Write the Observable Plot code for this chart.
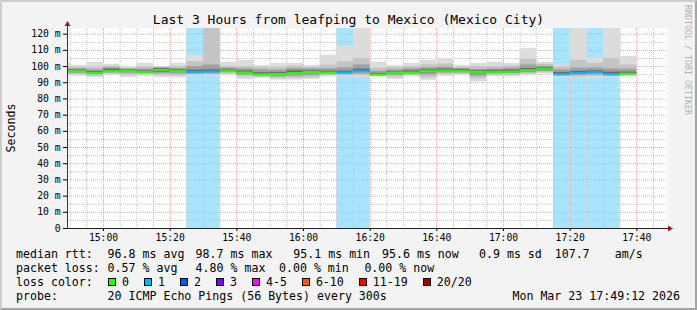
<!DOCTYPE html>
<html><head><meta charset="utf-8">
<script src="https://cdn.jsdelivr.net/npm/d3@7"></script>
<script src="https://cdn.jsdelivr.net/npm/@observablehq/plot@0.6"></script>
<style>
html,body{margin:0;padding:0;background:#f3f3f3;}
#wrap{position:relative;width:697px;height:310px;background:#f3f3f3;overflow:hidden;font-family:"DejaVu Sans Mono",monospace;color:#000;}
#border{position:absolute;left:0;top:0;width:697px;height:310px;box-sizing:border-box;border:2px solid;border-color:#cdcdcd #a4a4a4 #a4a4a4 #cdcdcd;pointer-events:none;}
#chart{position:absolute;left:0;top:0;}
#title{position:absolute;left:0;top:12px;width:697px;text-align:center;font-size:13px;line-height:15px;white-space:pre;}
.t{position:absolute;white-space:pre;font-size:11.6px;line-height:14px;}
#ylab{position:absolute;left:10.5px;top:128px;transform:translate(-50%,-50%) rotate(-90deg);font-size:11.6px;line-height:12px;white-space:pre;}
#tag{position:absolute;left:687px;top:60px;transform:translate(-50%,-50%) rotate(90deg);font-size:8.3px;line-height:9px;white-space:pre;color:#b0b0b0;}
#losslegend{position:absolute;left:108px;top:275px;height:14px;display:flex;align-items:center;font-size:11.6px;line-height:14px;white-space:pre;}
.sw{display:inline-block;width:6px;height:6px;border:1px solid #000;margin-right:6px;}
.lb{margin-right:15px;}
</style>
</head><body>
<div id="wrap">
  <div id="chart"></div>
  <div id="title"></div>
  <div id="ylab"></div>
  <div id="tag"></div>
  <div id="legend"></div>
  <div id="losslegend"></div>
  <div id="border"></div>
</div>
<script>
// ---------- data ----------
const titleText = "Last 3 Hours from leafping to Mexico (Mexico City)";
const yAxisLabel = "Seconds";
const tagText = "RRDTOOL / TOBI OETIKER";
const dayISO = "2026-03-23";
const windowStart = "14:49:12";
const windowEnd = "17:49:12";

// 5-minute slot start times (UTC-like clock labels)
const slotStart = ["14:45","14:50","14:55","15:00","15:05","15:10","15:15","15:20","15:25","15:30",
  "15:35","15:40","15:45","15:50","15:55","16:00","16:05","16:10","16:15","16:20",
  "16:25","16:30","16:35","16:40","16:45","16:50","16:55","17:00","17:05","17:10",
  "17:15","17:20","17:25","17:30","17:35"];
// median rtt (ms)
const medianRtt = [97.2,97.2,96.0,97.2,97.3,96.7,98.0,97.2,96.7,97.0,
  97.6,96.4,95.2,95.4,96.0,96.6,96.3,96.3,97.2,95.1,
  96.3,96.4,97.2,97.5,97.2,96.7,96.7,96.8,97.8,98.7,
  95.3,96.0,96.5,95.3,95.6];
// smoke: min / max ping (ms)
const pingMin = [94.4,94.0,93.0,94.6,93.2,94.0,93.2,93.0,94.0,94.0,
  94.6,92.0,92.6,91.6,91.6,92.0,93.6,93.6,93.2,93.6,
  92.0,93.6,91.5,94.0,94.4,90.5,93.6,93.6,94.4,95.4,
  92.8,92.4,92.8,92.8,93.8];
const pingMax = [102.6,100.8,102.6,101.4,99.6,102.1,100.0,102.1,107.0,200,
  102.7,103.9,100.6,101.9,101.9,100.6,107.0,112.6,160,102.7,
  100.6,102.0,103.9,104.7,100.6,102.0,102.7,101.9,111.1,102.7,
  101.0,160,105.6,160,106.2];
// second smoke band
const band2Lo = [95.0,95.0,94.0,95.3,94.6,94.8,94.5,94.2,94.8,94.8,
  95.4,93.6,93.4,92.6,92.8,93.0,94.4,94.4,94.4,94.0,
  93.4,94.4,93.0,95.0,95.2,92.4,94.6,94.6,95.4,96.2,
  93.8,93.4,93.8,93.6,94.4];
const band2Hi = [100.0,99.6,99.6,100.2,98.9,99.8,99.6,100.0,103.0,160,
  100.0,100.0,99.6,99.6,100.2,99.6,101.0,103.0,105.0,99.0,
  99.4,100.0,101.0,101.6,99.6,100.0,100.0,100.4,104.5,101.4,
  99.8,104.0,102.0,105.0,101.0];
// third smoke band
const band3Lo = [95.8,95.8,95.0,96.0,95.8,95.6,95.6,95.5,95.4,95.5,
  96.2,94.8,94.2,93.6,94.0,94.4,95.2,95.2,95.4,94.4,
  94.6,95.2,94.8,96.0,96.0,94.0,95.4,95.6,96.2,97.0,
  94.4,94.6,94.8,94.4,95.0];
const band3Hi = [98.8,98.6,98.0,99.3,98.4,98.5,99.2,98.8,100.0,101.0,
  99.0,98.6,98.0,97.8,98.8,98.6,98.6,99.2,101.0,97.0,
  98.0,98.6,99.2,99.6,98.8,98.2,98.6,99.0,101.0,100.2,
  98.0,99.0,99.2,98.6,98.4];
// core smoke band
const coreLo = [96.6,96.6,95.5,96.6,96.6,96.1,96.6,96.5,96.0,96.2,
  96.9,95.6,94.7,94.6,95.2,95.8,95.8,95.8,96.4,94.8,
  95.6,95.8,96.2,96.8,96.6,95.6,96.0,96.2,96.9,97.8,
  94.8,95.4,95.8,94.9,95.3];
const coreHi = [97.9,97.9,96.8,98.4,97.9,97.4,98.8,97.9,97.8,98.0,
  98.3,97.4,96.2,96.4,97.4,97.4,97.2,97.2,98.4,95.8,
  97.0,97.4,98.0,98.4,98.0,97.4,97.6,97.8,98.8,99.4,
  96.4,97.0,97.4,96.6,96.6];
// lost pings per slot (of 20)
const lossCount = [0,0,0,0,0,0,0,0,1,1,
  0,0,0,0,0,0,0,1,1,0,
  0,0,0,0,0,0,0,0,0,0,
  1,1,1,1,0];

const yTicks = [0,10,20,30,40,50,60,70,80,90,100,110,120];
const yMinor = [5,15,25,35,45,55,65,75,85,95,105,115];
const xTickLabels = ["15:00","15:20","15:40","16:00","16:20","16:40","17:00","17:20","17:40"];
const xMinorLabels = ["14:50","14:55","15:05","15:10","15:15","15:25","15:30","15:35","15:45","15:50","15:55",
  "16:05","16:10","16:15","16:25","16:30","16:35","16:45","16:50","16:55",
  "17:05","17:10","17:15","17:25","17:30","17:35","17:45"];
const yTop = 123.5;

const lossLabels = ["0","1","2","3","4-5","6-10","11-19","20/20"];
const lossColors = ["#26ff00","#00b8ff","#0059ff","#7e00ff","#ff00ff","#ff5500","#ff0000","#a00000"];
const lossBgColor = "#a8e4fc";

const legendLine1 = [["median rtt:",16],["96.8 ms avg",107.6],["98.7 ms max",195.6],["95.1 ms min",293.3],["95.6 ms now",382],["0.9 ms sd",479],["107.7",554.7],["am/s",614.7]];
const legendLine2 = [["packet loss:",16],["0.57 % avg",107.6],["4.80 % max",195.6],["0.00 % min",279],["0.00 % now",364.4]];
const legendLine3Label = "loss color:";
const probeLabel = "probe:";
const probeText = "20 ICMP Echo Pings (56 Bytes) every 300s";
const stampText = "Mon Mar 23 17:49:12 2026";

// ---------- build ----------
const toDate = s => new Date(`${dayISO}T${s.length === 5 ? s + ":00" : s}Z`);
const STEP = 5 * 60 * 1000;
const rows = slotStart.map((s, i) => ({
  x1: toDate(s), x2: new Date(+toDate(s) + STEP),
  med: medianRtt[i], lo: pingMin[i], hi: pingMax[i],
  b2lo: band2Lo[i], b2hi: band2Hi[i], b3lo: band3Lo[i], b3hi: band3Hi[i],
  clo: coreLo[i], chi: coreHi[i], loss: lossCount[i]
}));
const xDomain = [toDate(windowStart), toDate(windowEnd)];
const xTicks = xTickLabels.map(toDate);
const xMinor = xMinorLabels.map(toDate);
const yMajor = yTicks.filter(v => v > 0);

const dotted = "1,1";
const chart = Plot.plot({
  width: 697, height: 248,
  marginLeft: 67, marginRight: 30, marginTop: 28, marginBottom: 20,
  style: {fontFamily: "DejaVu Sans Mono", fontSize: "9.7px", background: "transparent", color: "#000", overflow: "visible"},
  color: {type: "identity"},
  x: {type: "utc", domain: xDomain, ticks: xTicks, tickFormat: d3.utcFormat("%H:%M"), tickSize: 3, tickPadding: 3, label: null},
  y: {domain: [0, yTop], ticks: yTicks, tickFormat: d => d === 0 ? "0" : `${d} m`, tickSize: 4, tickPadding: 3, label: null},
  marks: [
    Plot.frame({fill: "white", stroke: null}),
    Plot.rect(rows.filter(d => d.loss > 0), {x1: "x1", x2: "x2", fill: lossBgColor, clip: true}),
    Plot.ruleY(yMinor, {stroke: "#c6c6c6", strokeDasharray: dotted}),
    Plot.ruleX(xMinor, {stroke: "#c6c6c6", strokeDasharray: dotted}),
    Plot.ruleY(yMajor, {stroke: "#f3a0a0", strokeDasharray: dotted}),
    Plot.ruleX(xTicks, {stroke: "#f3a0a0", strokeDasharray: dotted}),
    Plot.rect(rows, {x1: "x1", x2: "x2", y1: "lo", y2: "hi", fill: "#dcdcdc", clip: true}),
    Plot.rect(rows, {x1: "x1", x2: "x2", y1: "b2lo", y2: "b2hi", fill: "#c4c4c4", clip: true}),
    Plot.rect(rows, {x1: "x1", x2: "x2", y1: "b3lo", y2: "b3hi", fill: "#a0a0a0", clip: true}),
    Plot.rect(rows, {x1: "x1", x2: "x2", y1: "clo", y2: "chi", fill: "#6a6a6a", clip: true}),
    Plot.ruleY(rows, {x1: "x1", x2: "x2", y: "med", stroke: d => lossColors[d.loss], strokeWidth: 2, clip: true})
  ]
});
document.getElementById("chart").appendChild(chart);

// axis lines + arrows via the scales
const svg = d3.select(chart);
const xs = chart.scale("x"), ys = chart.scale("y");
const X0 = Math.round(xs.apply(xDomain[0])), X1 = Math.round(xs.apply(xDomain[1]));
const Y0 = Math.round(ys.apply(0)), Y1 = Math.round(ys.apply(yTop));
svg.append("line").attr("x1", X0 + 0.5).attr("x2", X0 + 0.5).attr("y1", Y0 + 0.5).attr("y2", Y1 - 3).attr("stroke", "#333");
svg.append("line").attr("x1", X0).attr("x2", X1 + 3).attr("y1", Y0 + 0.5).attr("y2", Y0 + 0.5).attr("stroke", "#222");
svg.append("path").attr("d", `M${X0 - 2.5},${Y1 - 2}L${X0 + 3.5},${Y1 - 2}L${X0 + 0.5},${Y1 - 7}Z`).attr("fill", "#a31515");
svg.append("path").attr("d", `M${X1 + 1},${Y0 - 2.5}L${X1 + 1},${Y0 + 3.5}L${X1 + 6},${Y0 + 0.5}Z`).attr("fill", "#a31515");

// texts
document.getElementById("title").textContent = titleText;
document.getElementById("ylab").textContent = yAxisLabel;
document.getElementById("tag").textContent = tagText;
const legend = document.getElementById("legend");
function put(text, left, top, extra) {
  const el = document.createElement("div");
  el.className = "t";
  el.textContent = text;
  el.style.left = left + "px";
  el.style.top = top + "px";
  if (extra) Object.assign(el.style, extra);
  legend.appendChild(el);
}
legendLine1.forEach(([t, x]) => put(t, x, 247));
legendLine2.forEach(([t, x]) => put(t, x, 261));
put(legendLine3Label, 16, 275);
put(probeLabel, 16, 289);
put(probeText, 107.6, 289);
put(stampText, 0, 289, {left: "auto", right: "17px"});
const ll = document.getElementById("losslegend");
lossLabels.forEach((lab, i) => {
  const sw = document.createElement("span");
  sw.className = "sw";
  sw.style.background = lossColors[i];
  ll.appendChild(sw);
  const tx = document.createElement("span");
  tx.className = "lb";
  tx.textContent = lab;
  ll.appendChild(tx);
});
</script>
</body></html>
